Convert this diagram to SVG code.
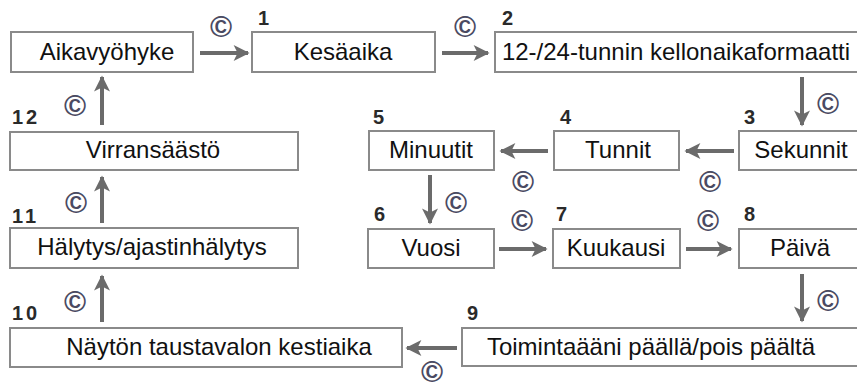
<svg xmlns="http://www.w3.org/2000/svg" width="857" height="388" viewBox="0 0 857 388">
<style>
.box{fill:#fff;stroke:#8a8a8a;stroke-width:2}
.lbl{font-family:"Liberation Sans",Arial,sans-serif;font-size:24px;fill:#111;text-anchor:middle}
.num{font-family:"Liberation Sans",Arial,sans-serif;font-size:20px;font-weight:bold;fill:#2a2a2a;letter-spacing:3px}
.cc{font-family:"Liberation Sans",Arial,sans-serif;font-size:30px;font-weight:bold;fill:#4a4a62;text-anchor:middle}
.arr{stroke:#6b6b6b;stroke-width:4;fill:none;marker-end:url(#ah)}
</style>
<defs>
<marker id="ah" viewBox="0 0 10 10" refX="9" refY="5" markerWidth="4.5" markerHeight="4" orient="auto" markerUnits="strokeWidth">
<path d="M0,0 L10,5 L0,10 L2.5,5 Z" fill="#6b6b6b"/>
</marker>
</defs>
<rect width="857" height="388" fill="#fff"/>
<g id="connectors">
<line class="arr" x1="200" y1="53" x2="248" y2="53"/>
<line class="arr" x1="442" y1="53" x2="488" y2="53"/>
<line class="arr" x1="802" y1="77" x2="802" y2="125"/>
<line class="arr" x1="734" y1="151" x2="686" y2="151"/>
<line class="arr" x1="548" y1="151" x2="501" y2="151"/>
<line class="arr" x1="430" y1="175" x2="430" y2="223"/>
<line class="arr" x1="499" y1="249" x2="546" y2="249"/>
<line class="arr" x1="686" y1="249" x2="731" y2="249"/>
<line class="arr" x1="802" y1="274" x2="802" y2="321"/>
<line class="arr" x1="457" y1="348" x2="407" y2="348"/>
<line class="arr" x1="102" y1="322" x2="102" y2="276"/>
<line class="arr" x1="102" y1="223" x2="102" y2="177"/>
<line class="arr" x1="102" y1="125" x2="102" y2="77"/>
<text class="cc" x="221" y="37">©</text>
<text class="cc" x="465" y="37">©</text>
<text class="cc" x="828" y="114">©</text>
<text class="cc" x="710" y="192">©</text>
<text class="cc" x="523" y="192">©</text>
<text class="cc" x="456" y="213">©</text>
<text class="cc" x="522" y="231">©</text>
<text class="cc" x="708" y="231">©</text>
<text class="cc" x="828" y="311">©</text>
<text class="cc" x="432" y="382">©</text>
<text class="cc" x="75" y="312">©</text>
<text class="cc" x="76" y="213">©</text>
<text class="cc" x="75" y="116">©</text>
</g>
<g id="n0"><rect class="box" x="11" y="32" width="182" height="40"/><text class="lbl" x="107" y="60">Aikavyöhyke</text></g>
<g id="n1"><rect class="box" x="252" y="32" width="183" height="40"/><text class="lbl" x="343" y="60">Kesäaika</text><text class="num" x="258" y="25">1</text></g>
<g id="n2"><rect class="box" x="495" y="32" width="372" height="40"/><text class="lbl" x="676" y="60">12-/24-tunnin kellonaikaformaatti</text><text class="num" x="502" y="25">2</text></g>
<g id="n3"><rect class="box" x="739" y="131" width="130" height="39"/><text class="lbl" x="801" y="158">Sekunnit</text><text class="num" x="744" y="124">3</text></g>
<g id="n4"><rect class="box" x="554" y="131" width="125" height="39"/><text class="lbl" x="618" y="158">Tunnit</text><text class="num" x="560" y="124">4</text></g>
<g id="n5"><rect class="box" x="369" y="131" width="125" height="39"/><text class="lbl" x="431" y="158">Minuutit</text><text class="num" x="373" y="124">5</text></g>
<g id="n6"><rect class="box" x="368" y="229" width="126" height="39"/><text class="lbl" x="431" y="256">Vuosi</text><text class="num" x="374" y="221">6</text></g>
<g id="n7"><rect class="box" x="553" y="229" width="127" height="39"/><text class="lbl" x="616" y="256">Kuukausi</text><text class="num" x="556" y="221">7</text></g>
<g id="n8"><rect class="box" x="739" y="229" width="130" height="39"/><text class="lbl" x="800" y="256">Päivä</text><text class="num" x="744" y="221">8</text></g>
<g id="n9"><rect class="box" x="462" y="328" width="410" height="38"/><text class="lbl" x="651" y="355">Toimintaääni päällä/pois päältä</text><text class="num" x="467" y="320">9</text></g>
<g id="n10"><rect class="box" x="10" y="328" width="392" height="39"/><text class="lbl" x="219" y="355">Näytön taustavalon kestiaika</text><text class="num" x="12" y="320">10</text></g>
<g id="n11"><rect class="box" x="10" y="228" width="288" height="40"/><text class="lbl" x="152" y="255">Hälytys/ajastinhälytys</text><text class="num" x="12" y="223">11</text></g>
<g id="n12"><rect class="box" x="10" y="132" width="288" height="38"/><text class="lbl" x="153" y="158">Virransäästö</text><text class="num" x="12" y="124">12</text></g>
</svg>
